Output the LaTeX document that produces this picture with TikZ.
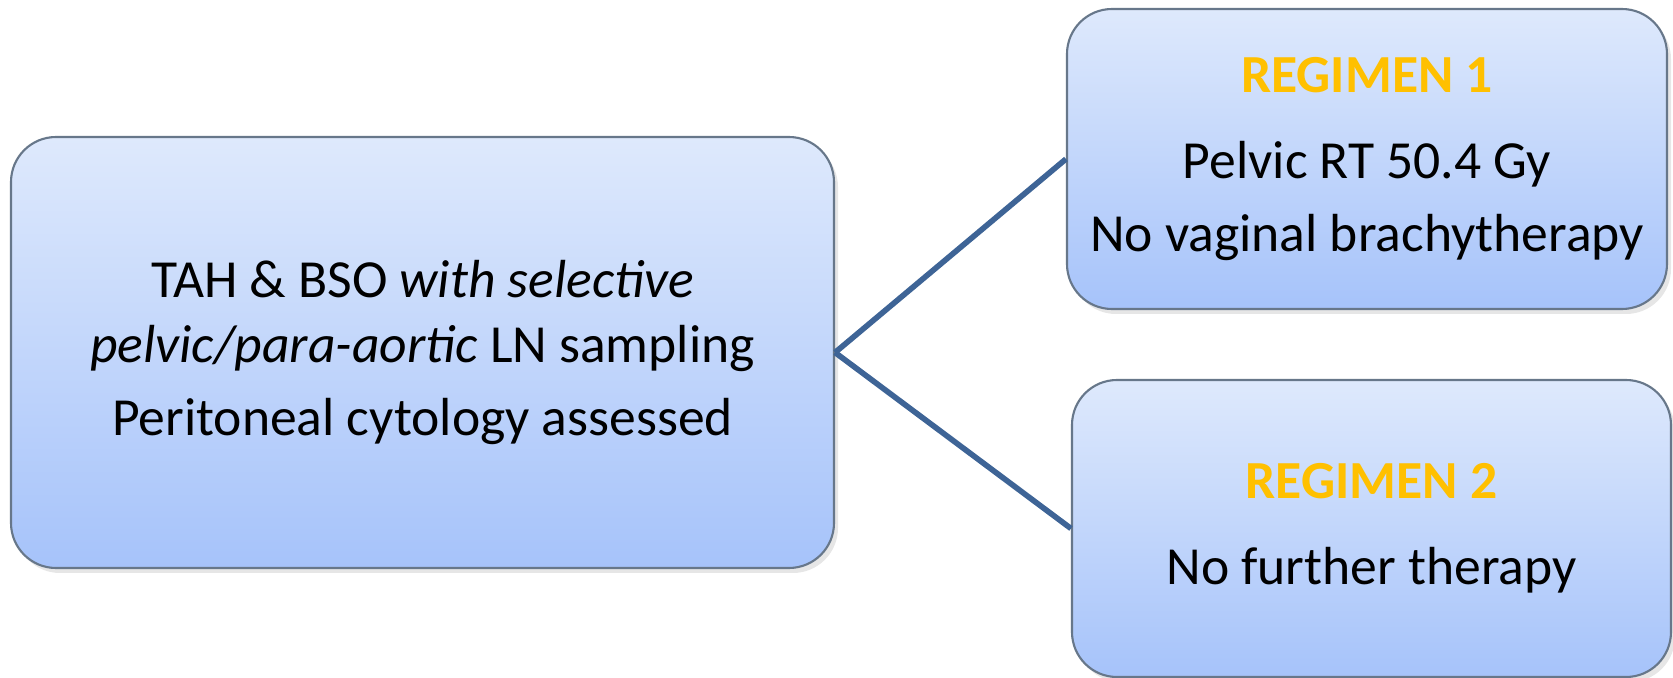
\documentclass[tikz,border=0pt]{standalone}
\usepackage{fontspec}
\setmainfont{Carlito}
\usetikzlibrary{shadows}
\definecolor{boxtop}{HTML}{DEE9FC}
\definecolor{boxbot}{HTML}{A6C3FA}
\definecolor{boxedge}{HTML}{67778A}
\definecolor{linkblue}{HTML}{3E6496}
\definecolor{regold}{HTML}{FFC000}
\begin{document}
\begin{tikzpicture}[
  regbox/.style={draw=boxedge,line width=0.6pt,rounded corners=0.45cm,top color=boxtop,bottom color=boxbot,
    inner sep=0pt,align=center,drop shadow={shadow xshift=0.04cm,shadow yshift=-0.05cm,opacity=0.2},
    font=\fontsize{15.25}{21}\selectfont}
]
\useasboundingbox (0,0) rectangle (16.73,6.78);
\node[regbox,minimum width=8.23cm,minimum height=4.31cm,font=\fontsize{15.25}{18.6}\selectfont] (surg) at (4.225,3.255)
  {TAH \& BSO \textit{with selective}\\ \textit{pelvic/para-aortic} LN sampling\\[2pt] Peritoneal cytology assessed};
\node[regbox,minimum width=6.00cm,minimum height=3.00cm] (reg1) at (13.67,5.19)
  {{\color{regold}\bfseries REGIMEN 1}\\[3.5pt] Pelvic RT 50.4 Gy\\ No vaginal brachytherapy};
\node[regbox,minimum width=5.99cm,minimum height=2.97cm] (reg2) at (13.715,1.495)
  {\raisebox{-0.05cm}{\color{regold}\bfseries REGIMEN 2}\\[3.5pt] \raisebox{-0.05cm}{No further therapy}};
\draw[linkblue,line width=1.6pt] (surg.east) -- (reg1.west);
\draw[linkblue,line width=1.6pt] (surg.east) -- (reg2.west);
\end{tikzpicture}
\end{document}
